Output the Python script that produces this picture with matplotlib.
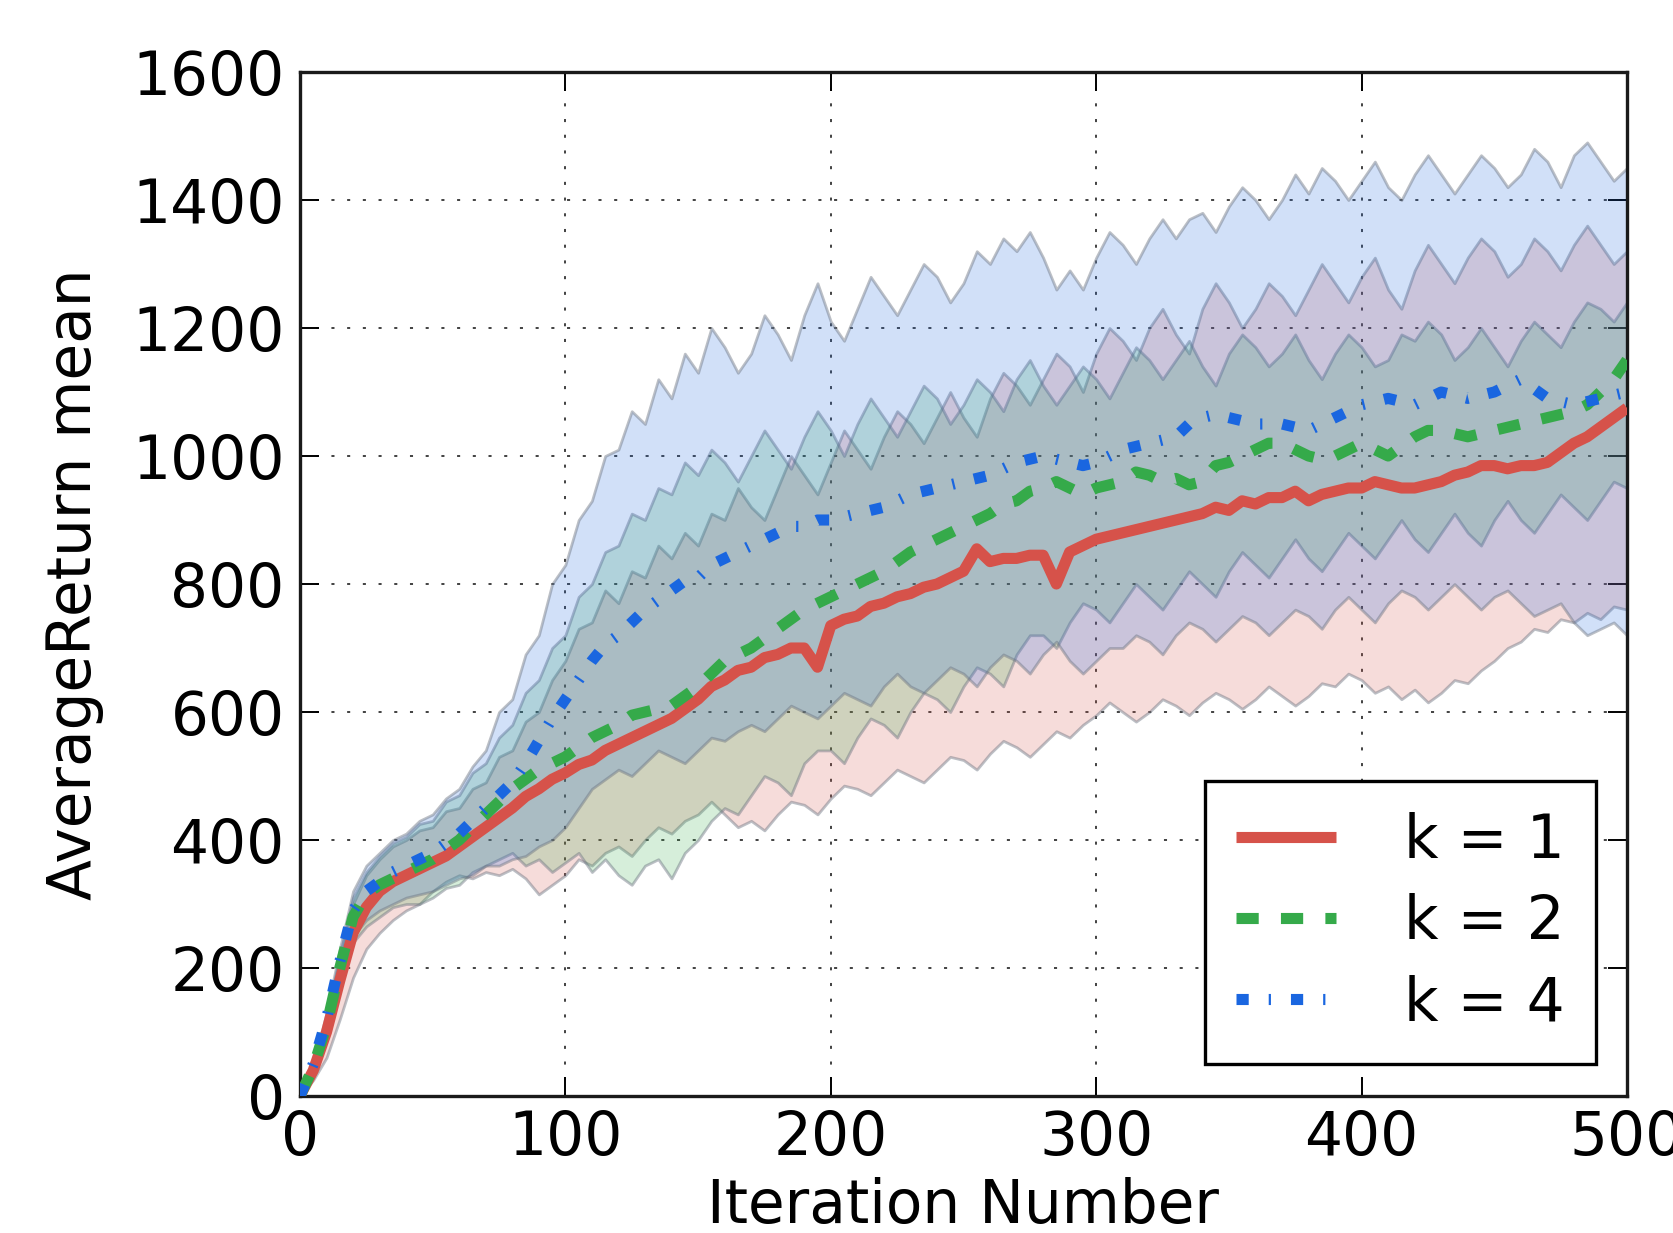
import numpy as np
import matplotlib
matplotlib.use("Agg")
import matplotlib.pyplot as plt

# ---------------- data (every 5 iterations) ----------------
iterations = np.arange(0, 501, 5)

k1_mean = [0, 40, 100, 180, 255, 295, 320, 335, 345, 355, 365, 375, 390, 405, 420, 435, 450, 468, 480, 495,
           505, 518, 525, 540, 550, 560, 570, 580, 590, 605, 620, 640, 650, 665, 670, 685, 690, 700, 700, 670,
           735, 745, 750, 765, 770, 780, 785, 795, 800, 810, 820, 855, 835, 840, 840, 845, 845, 800, 850, 860,
           870, 875, 880, 885, 890, 895, 900, 905, 910, 920, 915, 930, 925, 935, 935, 945, 930, 940, 945, 950,
           950, 960, 955, 950, 950, 955, 960, 970, 975, 985, 985, 980, 985, 985, 990, 1005, 1020, 1030, 1045, 1060,
           1075]
k1_low = [0, 25, 60, 120, 185, 230, 255, 275, 290, 300, 320, 335, 345, 340, 350, 345, 355, 340, 315, 330,
          345, 370, 360, 380, 390, 375, 400, 420, 410, 430, 440, 460, 440, 420, 430, 415, 440, 460, 455, 440,
          465, 485, 480, 470, 490, 510, 500, 490, 510, 530, 525, 510, 535, 555, 545, 530, 550, 570, 560, 580,
          595, 615, 600, 585, 600, 620, 610, 595, 615, 630, 620, 605, 620, 640, 625, 610, 625, 645, 640, 660,
          650, 630, 640, 620, 635, 615, 630, 650, 645, 665, 680, 700, 710, 730, 725, 745, 740, 755, 745, 765,
          760]
k1_up = [0, 45, 120, 210, 300, 345, 370, 390, 400, 415, 420, 445, 450, 480, 490, 530, 540, 585, 600, 650,
         680, 730, 740, 790, 770, 820, 810, 860, 840, 880, 860, 910, 900, 950, 920, 900, 950, 1000, 970, 940,
         990, 1040, 1010, 980, 1030, 1070, 1050, 1020, 1060, 1100, 1060, 1030, 1090, 1130, 1110, 1080, 1120, 1160, 1140, 1100,
         1160, 1200, 1180, 1150, 1200, 1230, 1190, 1160, 1230, 1270, 1240, 1200, 1230, 1270, 1250, 1220, 1260, 1300, 1270, 1240,
         1280, 1310, 1260, 1230, 1290, 1330, 1300, 1270, 1310, 1340, 1320, 1280, 1300, 1340, 1320, 1290, 1330, 1360, 1330, 1300,
         1320]

k2_mean = [0, 45, 110, 200, 280, 315, 330, 340, 350, 360, 370, 385, 400, 420, 440, 460, 480, 495, 510, 520,
           530, 545, 560, 570, 580, 595, 600, 605, 610, 625, 640, 660, 680, 690, 700, 715, 730, 745, 760, 770,
           780, 790, 800, 810, 820, 835, 850, 860, 870, 880, 890, 900, 910, 925, 930, 945, 950, 960, 950, 940,
           950, 955, 960, 975, 970, 960, 965, 955, 960, 985, 990, 1000, 1010, 1020, 1020, 1010, 1000, 995, 1000, 1010,
           1020, 1010, 1000, 1015, 1030, 1040, 1040, 1035, 1030, 1035, 1040, 1045, 1050, 1055, 1060, 1065, 1070, 1080, 1100, 1120,
           1150]
k2_low = [0, 40, 90, 170, 240, 265, 280, 295, 300, 300, 310, 325, 330, 350, 360, 370, 380, 360, 370, 350,
          365, 380, 350, 370, 345, 330, 360, 370, 340, 380, 400, 430, 450, 440, 470, 500, 490, 470, 520, 540,
          540, 520, 560, 590, 580, 560, 600, 630, 620, 600, 640, 670, 660, 640, 690, 720, 720, 700, 740, 770,
          760, 740, 770, 800, 780, 760, 790, 820, 800, 780, 820, 850, 830, 810, 840, 870, 840, 820, 850, 880,
          860, 840, 870, 900, 870, 850, 880, 910, 880, 860, 900, 930, 900, 880, 910, 940, 920, 900, 930, 960,
          950]
k2_up = [0, 48, 125, 220, 310, 350, 375, 395, 405, 425, 430, 460, 470, 505, 520, 560, 580, 630, 650, 700,
         720, 780, 800, 850, 860, 910, 900, 950, 940, 990, 970, 1010, 990, 960, 1000, 1040, 1010, 980, 1030, 1070,
         1040, 1000, 1050, 1090, 1060, 1030, 1070, 1110, 1090, 1050, 1080, 1120, 1100, 1070, 1120, 1150, 1110, 1080, 1110, 1140,
         1120, 1090, 1130, 1170, 1150, 1120, 1150, 1180, 1140, 1110, 1160, 1190, 1170, 1140, 1160, 1190, 1150, 1120, 1160, 1190,
         1170, 1140, 1150, 1190, 1180, 1210, 1190, 1150, 1170, 1200, 1170, 1140, 1180, 1210, 1190, 1170, 1210, 1240, 1230, 1210,
         1240]

k4_mean = [0, 50, 120, 210, 290, 320, 335, 350, 360, 370, 380, 395, 410, 430, 450, 470, 490, 520, 555, 590,
           620, 650, 680, 705, 720, 740, 760, 775, 790, 805, 810, 830, 840, 850, 860, 870, 880, 890, 890, 900,
           900, 905, 910, 915, 920, 930, 940, 945, 950, 955, 960, 965, 970, 980, 990, 995, 1000, 995, 990, 985,
           990, 1000, 1010, 1015, 1020, 1025, 1030, 1050, 1060, 1065, 1060, 1055, 1050, 1050, 1050, 1045, 1040, 1050, 1060, 1070,
           1080, 1085, 1090, 1085, 1080, 1090, 1100, 1095, 1090, 1095, 1100, 1110, 1120, 1105, 1090, 1085, 1080, 1085, 1090, 1095,
           1100]
k4_low = [0, 45, 100, 180, 250, 275, 290, 300, 310, 315, 320, 330, 340, 345, 360, 360, 370, 375, 390, 400,
          420, 450, 480, 495, 510, 500, 520, 540, 530, 520, 540, 560, 555, 570, 580, 570, 590, 610, 600, 590,
          610, 630, 620, 610, 640, 660, 640, 630, 650, 670, 660, 640, 670, 690, 680, 660, 690, 710, 680, 660,
          680, 700, 700, 720, 710, 690, 720, 740, 730, 710, 730, 750, 740, 720, 740, 760, 750, 730, 760, 780,
          760, 740, 770, 790, 780, 760, 780, 800, 780, 760, 780, 790, 770, 750, 760, 770, 740, 720, 730, 740,
          720]
k4_up = [0, 50, 130, 230, 320, 360, 380, 400, 410, 430, 440, 465, 480, 515, 540, 600, 620, 690, 720, 800,
         830, 900, 930, 1000, 1010, 1070, 1050, 1120, 1090, 1160, 1130, 1200, 1170, 1130, 1160, 1220, 1190, 1150, 1220, 1270,
         1210, 1180, 1230, 1280, 1250, 1220, 1260, 1300, 1280, 1240, 1270, 1320, 1300, 1340, 1320, 1350, 1310, 1260, 1290, 1260,
         1310, 1350, 1330, 1300, 1340, 1370, 1340, 1370, 1380, 1350, 1390, 1420, 1400, 1370, 1400, 1440, 1410, 1450, 1430, 1400,
         1430, 1460, 1420, 1400, 1440, 1470, 1440, 1410, 1440, 1470, 1450, 1420, 1440, 1480, 1460, 1420, 1470, 1490, 1460, 1430,
         1450]

labels = ["k = 1", "k = 2", "k = 4"]
colors = ["#d6524a", "#35aa4a", "#1a66e0"]
x_ticks = [0, 100, 200, 300, 400, 500]
y_ticks = [0, 200, 400, 600, 800, 1000, 1200, 1400, 1600]

# ---------------- figure ----------------
plt.rcParams["font.family"] = ["DejaVu Sans"]
FS = 43
fig = plt.figure(figsize=(16.73, 12.33), dpi=100)
ax = fig.add_axes([0.1793, 0.1111, 0.9725 - 0.1793, 0.9416 - 0.1111])

means = [k1_mean, k2_mean, k4_mean]
lows = [k1_low, k2_low, k4_low]
ups = [k1_up, k2_up, k4_up]
styles = ["-", (0, (2.0, 2.0)), (0, (1.1, 1.8, 0.2, 1.8))]

for lo, up, c in zip(lows, ups, colors):
    rgb = matplotlib.colors.to_rgb(c)
    ax.fill_between(iterations, lo, up, facecolor=rgb + (0.2,),
                    edgecolor=(0.42, 0.45, 0.50, 0.45), linewidth=2.0, zorder=1)

for m, c, ls, lab in zip(means, colors, styles, labels):
    ax.plot(iterations, m, color=c, lw=8, linestyle=ls, label=lab,
            dash_capstyle="butt", solid_capstyle="butt", zorder=3)

ax.set_xlim(0, 500)
ax.set_ylim(0, 1600)
ax.set_xticks(x_ticks)
ax.set_yticks(y_ticks)
ax.grid(True, color="#333333", linestyle=(0, (1.7, 7)), linewidth=1.3, zorder=0)
ax.set_axisbelow(True)
ax.tick_params(axis="both", which="major", direction="in", length=14, width=1.4,
               top=True, right=True, labelsize=FS, color="black")
ax.tick_params(axis="x", pad=9)
ax.tick_params(axis="y", pad=11)
for s in ax.spines.values():
    s.set_linewidth(2.4)
    s.set_color("#1a1a1a")

ax.set_xlabel("Iteration Number", fontsize=FS, labelpad=7)
ax.set_ylabel("AverageReturn mean", fontsize=FS, labelpad=20)

leg = ax.legend(loc="lower right", bbox_to_anchor=(0.9767, 0.0312), borderaxespad=0,
                fontsize=FS, fancybox=False, framealpha=1, edgecolor="black",
                handlelength=1.66, handletextpad=1.15, labelspacing=0.37, borderpad=0.52)
leg.get_frame().set_linewidth(2.4)

fig.savefig("out.png", dpi=100)
